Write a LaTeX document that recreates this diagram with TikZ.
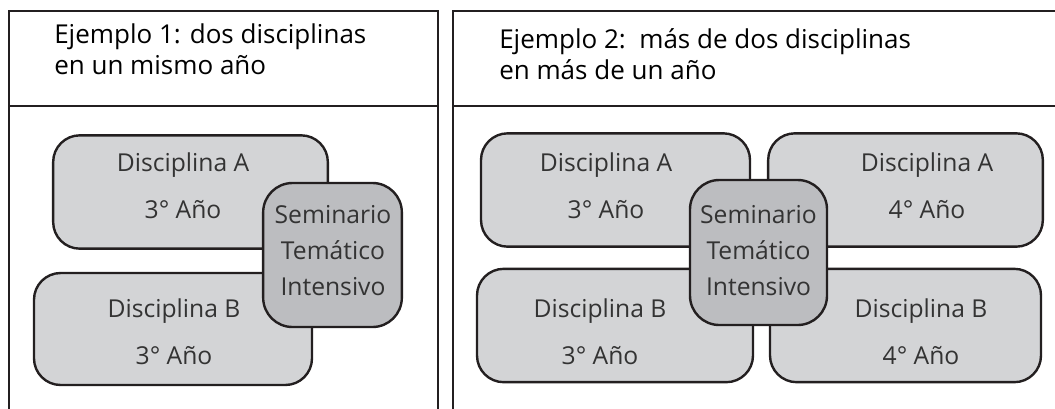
\documentclass[tikz,border=0pt]{standalone}
\usepackage{fontspec}
\setmainfont{Open Sans}
\usetikzlibrary{positioning}

\definecolor{boxgray}{HTML}{D3D4D6}
\definecolor{semgray}{HTML}{BCBDC0}
\definecolor{linegray}{HTML}{231F20}

\begin{document}
\begin{tikzpicture}[x=0.75pt, y=-0.75pt,
    frame/.style={draw=linegray, line width=1.5pt},
    disc/.style={draw=linegray, fill=boxgray, line width=1.8pt, rounded corners=20pt,
        minimum width=206pt, minimum height=85pt, inner sep=0pt, outer sep=0pt},
    sem/.style={draw=linegray, fill=semgray, line width=1.8pt, rounded corners=22pt,
        minimum width=104pt, minimum height=108pt, inner sep=0pt, outer sep=0pt},
    disctext/.style={anchor=base, align=center, inner sep=0pt, text=black!80,
        font=\fontsize{18.5}{35.25}\selectfont},
    semtext/.style={anchor=base, align=center, inner sep=0pt, text=black!80,
        font=\fontsize{18.5}{27}\selectfont},
    heading/.style={anchor=base west, align=left, inner sep=0pt,
        font=\fontsize{19.5}{23.25}\selectfont}]
    \useasboundingbox (0,0) rectangle (1055,408);

    % Frames
    \draw[frame] (9,414) -- (9,11) -- (438,11) -- (438,414);
    \draw[frame] (9,106) -- (438,106);
    \draw[frame] (453,414) -- (453,11) -- (1062,11);
    \draw[frame] (453,106) -- (1062,106);

    % Titles (base = last line)
    \node[heading] (title1) at (54,74) {Ejemplo 1: dos disciplinas\\en un mismo año};
    \node[heading] (title2) at (499,79) {Ejemplo 2:\ \ más de dos disciplinas\\en más de un año};

    % Ejemplo 1
    \node[disc] (a1) at (190.5,192) {};
    \node[disctext] (a1txt) at (183,218) {Disciplina A\\3° Año};
    \node[disc, minimum width=208.5pt, minimum height=84pt] (b1) at (173,329) {};
    \node[disctext] (b1txt) at (174,364) {Disciplina B\\3° Año};
    \node[sem] (s1) at (332.5,255) {};
    \node[semtext] (s1txt) at (333,295) {Seminario\\Temático\\Intensivo};

    % Ejemplo 2
    \node[disc, minimum width=201.75pt] (a2) at (615.5,190) {};
    \node[disctext] (a2txt) at (606,218) {Disciplina A\\3° Año};
    \node[disc, minimum width=207pt] (b2) at (615,325.5) {};
    \node[disctext] (b2txt) at (600,364) {Disciplina B\\3° Año};
    \node[disc] (a3) at (905.5,190) {};
    \node[disctext] (a3txt) at (927,218) {Disciplina A\\4° Año};
    \node[disc, minimum width=203.25pt] (b3) at (905.5,325.5) {};
    \node[disctext] (b3txt) at (921,364) {Disciplina B\\4° Año};
    \node[sem, minimum width=102.75pt, minimum height=108.75pt] (s2) at (758.5,252.5) {};
    \node[semtext] (s2txt) at (758.5,295) {Seminario\\Temático\\Intensivo};
\end{tikzpicture}
\end{document}
